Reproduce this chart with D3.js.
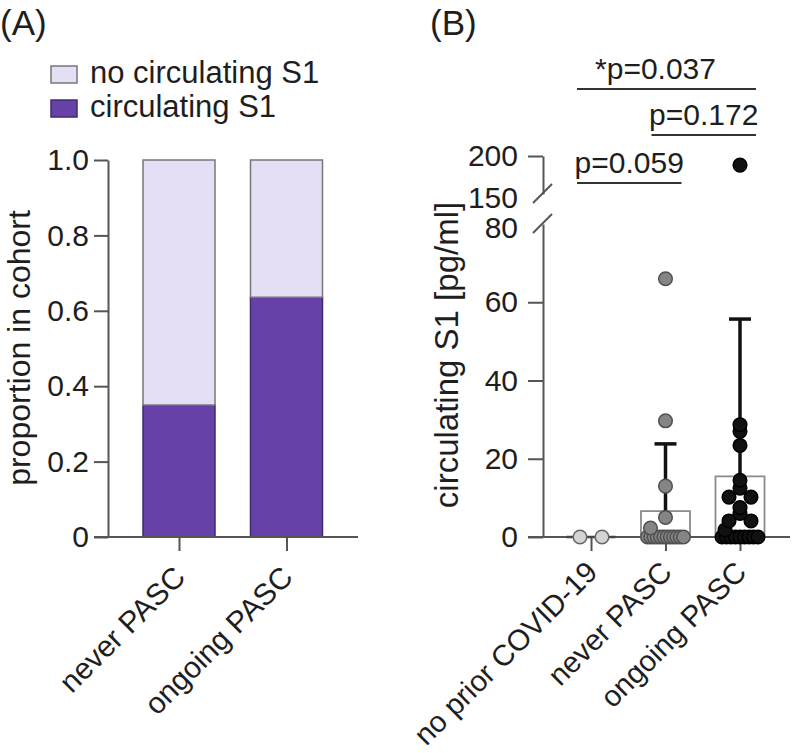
<!DOCTYPE html>
<html>
<head>
<meta charset="utf-8">
<script src="https://cdn.jsdelivr.net/npm/d3@7"></script>
<style>
  body { margin: 0; background: #fff; }
  text { font-family: "Liberation Sans", Arial, sans-serif; fill: #1e1e1e; }
</style>
</head>
<body>
<script>
// ---- data (A) ----
const groupsA = ['never PASC', 'ongoing PASC'];
const circS1 = [0.35, 0.636];
const noCircS1 = [0.65, 0.364];
const ticksA = [0, 0.2, 0.4, 0.6, 0.8, 1.0];
const legendLabels = ['no circulating S1', 'circulating S1'];

// ---- data (B) ----
const groupsB = ['no prior COVID-19', 'never PASC', 'ongoing PASC'];
const s1NoPrior = [0, 0];
const s1Never = [66, 29.7, 13, 5, 2.3, 0, 0, 0, 0, 0, 0, 0, 0, 0, 0, 0, 0];
const s1Ongoing = [188, 28.7, 27, 23.4, 14.5, 12.5, 10.2, 10.2, 7.5, 6, 4.1, 4.1, 1.8,
                   0, 0, 0, 0, 0, 0, 0, 0, 0];
const meanB = [0, 6.6, 15.5];
const sdB = [0, 17.2, 40.2];
const ticksLow = [0, 20, 40, 60, 80];
const ticksHigh = [150, 200];
const pairs = [
  { a: 'no prior COVID-19', b: 'ongoing PASC', label: '*p=0.037' },
  { a: 'never PASC', b: 'ongoing PASC', label: 'p=0.172' },
  { a: 'no prior COVID-19', b: 'never PASC', label: 'p=0.059' }
];

// couleurs
const darkPurple = '#6642a8';
const lightPurple = '#e5dff5';
const dotFill = ['#d4d4d4', '#858585', '#111111'];
const dotStroke = ['#666', '#505050', '#000'];
const axisCol = '#555';

const svg = d3.select('body').append('svg')
  .attr('width', 800)
  .attr('height', 753);

// ================= Panel A =================
const yA = d3.scaleLinear().domain([0, 1]).range([537, 160]);
const xA = d3.scalePoint().domain(groupsA).range([179, 286.5]);
const barWA = 72;

svg.append('text').attr('x', 0).attr('y', 35).style('font-size', '35px').text('(A)');

// légende
const legend = svg.append('g');
[lightPurple, darkPurple].forEach((c, i) => {
  legend.append('rect')
    .attr('x', 51).attr('y', 66 + i * 34)
    .attr('width', 26).attr('height', 17)
    .attr('fill', c).attr('stroke', i ? '#3e2c6e' : '#777').attr('stroke-width', 1.5);
  legend.append('text')
    .attr('x', 90).attr('y', 83 + i * 34)
    .style('font-size', '31px')
    .text(legendLabels[i]);
});

// barres empilées
const rowsA = groupsA.map((g, i) => ({ group: g, circ: circS1[i], noCirc: noCircS1[i] }));
const stackA = d3.stack().keys(['circ', 'noCirc'])(rowsA);
svg.append('g').selectAll('g')
  .data(stackA)
  .join('g')
  .attr('fill', d => d.key === 'circ' ? darkPurple : lightPurple)
  .attr('stroke', d => d.key === 'circ' ? '#3e2c6e' : '#777')
  .attr('stroke-width', 1.5)
  .selectAll('rect')
  .data(d => d)
  .join('rect')
  .attr('x', d => xA(d.data.group) - barWA / 2)
  .attr('width', barWA)
  .attr('y', d => yA(d[1]))
  .attr('height', d => yA(d[0]) - yA(d[1]));

// axe Y
const axA = svg.append('g')
  .attr('transform', 'translate(108,0)')
  .call(d3.axisLeft(yA).tickValues(ticksA).tickSize(14).tickSizeOuter(0).tickPadding(5)
    .tickFormat(d => d === 0 ? '0' : d.toFixed(1)));
axA.selectAll('text').style('font-size', '30px').attr('fill', '#1e1e1e');
axA.selectAll('line, path').attr('stroke', axisCol).attr('stroke-width', 2);

// axe X
svg.append('line').attr('x1', 94).attr('x2', 358).attr('y1', 537).attr('y2', 537)
  .attr('stroke', axisCol).attr('stroke-width', 2);
const axXA = svg.append('g')
  .attr('transform', 'translate(0,537)')
  .call(d3.axisBottom(xA).tickSize(14).tickFormat(''));
axXA.select('.domain').remove();
axXA.selectAll('line').attr('stroke', axisCol).attr('stroke-width', 2);
svg.append('g').selectAll('text')
  .data(groupsA)
  .join('text')
  .attr('transform', d => `translate(${xA(d) + 8},579) rotate(-45)`)
  .attr('text-anchor', 'end')
  .style('font-size', '30px')
  .text(d => d);

svg.append('text')
  .attr('transform', 'translate(30,348) rotate(-90)')
  .attr('text-anchor', 'middle')
  .style('font-size', '32px')
  .text('proportion in cohort');

// ================= Panel B =================
const yLow = d3.scaleLinear().domain([0, 80]).range([537, 224]);
const yHigh = d3.scaleLinear().domain([150, 200]).range([194, 156]);
const yB = v => v > 80 ? yHigh(v) : yLow(v);
const xB = d3.scalePoint().domain(groupsB).range([591, 740]);
const barWB = 49;
const axX = 543;

svg.append('text').attr('x', 430).attr('y', 35).style('font-size', '35px').text('(B)');

// axe Y, segment bas
const axLow = svg.append('g')
  .attr('transform', `translate(${axX},0)`)
  .call(d3.axisLeft(yLow).tickValues(ticksLow).tickSize(15).tickSizeOuter(0).tickPadding(10));
axLow.selectAll('.tick').filter(d => d === 80).select('line').remove();
// segment haut
const axHigh = svg.append('g')
  .attr('transform', `translate(${axX},0)`)
  .call(d3.axisLeft(yHigh).tickValues(ticksHigh).tickSize(15).tickSizeOuter(0).tickPadding(10));
axHigh.selectAll('.tick').filter(d => d === 150).select('line').remove();
[axLow, axHigh].forEach(ax => {
  ax.selectAll('text').style('font-size', '30px').attr('fill', '#1e1e1e');
  ax.selectAll('line, path').attr('stroke', axisCol).attr('stroke-width', 2);
});
axHigh.selectAll('.tick text').filter(d => d === 150).attr('dy', '0.45em');
axLow.selectAll('.tick text').filter(d => d === 80).attr('dy', '0.45em');

// marques de rupture
[yHigh(150), yLow(80)].forEach(y => {
  svg.append('line')
    .attr('x1', axX - 10).attr('y1', y + 9)
    .attr('x2', axX + 9).attr('y2', y - 10)
    .attr('stroke', axisCol).attr('stroke-width', 2);
});

// axe X
svg.append('line').attr('x1', 528).attr('x2', 790).attr('y1', 537).attr('y2', 537)
  .attr('stroke', axisCol).attr('stroke-width', 2);
const axXB = svg.append('g')
  .attr('transform', 'translate(0,537)')
  .call(d3.axisBottom(xB).tickSize(14).tickFormat(''));
axXB.select('.domain').remove();
axXB.selectAll('line').attr('stroke', axisCol).attr('stroke-width', 2);
svg.append('g').selectAll('text')
  .data(groupsB)
  .join('text')
  .attr('transform', d => `translate(${xB(d) + 8},574) rotate(-45)`)
  .attr('text-anchor', 'end')
  .style('font-size', '29.5px')
  .text(d => d);

svg.append('text')
  .attr('transform', 'translate(458,355) rotate(-90)')
  .attr('text-anchor', 'middle')
  .style('font-size', '33px')
  .text('circulating S1 [pg/ml]');

// barres moyenne (contour)
svg.append('g').selectAll('path')
  .data(groupsB)
  .join('path')
  .attr('d', (g, i) => {
    const x0 = xB(g) - barWB / 2, x1 = xB(g) + barWB / 2;
    const top = yB(meanB[i]), base = yB(0);
    return `M${x0},${base}L${x0},${top}L${x1},${top}L${x1},${base}Z`;
  })
  .attr('fill', 'none')
  .attr('stroke', (g, i) => i === 0 ? '#444' : '#8a8a8a')
  .attr('stroke-width', (g, i) => i === 0 ? 2.5 : 1.8);

// barres d'erreur (SD)
const err = svg.append('g').attr('stroke', '#111').attr('stroke-width', 3.5);
groupsB.forEach((g, i) => {
  if (sdB[i] <= 0) return;
  const top = yB(meanB[i] + sdB[i]);
  err.append('line').attr('x1', xB(g)).attr('x2', xB(g))
    .attr('y1', yB(meanB[i])).attr('y2', top);
  err.append('line').attr('x1', xB(g) - 11).attr('x2', xB(g) + 11)
    .attr('y1', top).attr('y2', top);
});

// placement des points (lignes de valeurs égales étalées)
const r = 6.8;
function layout(vals, cx) {
  const sorted = vals.slice().sort((a, b) => a - b);
  const rows = [];
  sorted.forEach(v => {
    const last = rows[rows.length - 1];
    if (last && last.v === v) last.n++;
    else rows.push({ v, n: 1 });
  });
  const out = [];
  rows.forEach((row, k) => {
    const y = yB(row.v);
    if (row.n > 1) {
      const sp = Math.min(22, 36 / (row.n - 1));
      for (let i = 0; i < row.n; i++) out.push({ v: row.v, x: cx + (i - (row.n - 1) / 2) * sp, y });
    } else {
      const prev = rows[k - 1];
      let x = cx;
      if (prev && prev.n >= 3 && yB(prev.v) - y < r * 1.5) x = cx - 15;
      out.push({ v: row.v, x, y });
    }
  });
  return out;
}

[s1NoPrior, s1Never, s1Ongoing].forEach((vals, i) => {
  svg.append('g').selectAll('circle')
    .data(layout(vals, xB(groupsB[i])))
    .join('circle')
    .attr('cx', d => d.x)
    .attr('cy', d => d.y)
    .attr('r', r)
    .attr('fill', dotFill[i])
    .attr('stroke', dotStroke[i])
    .attr('stroke-width', 1.5);
});

// comparaisons
const bracketY = [89, 135, 183];
const sig = svg.append('g');
pairs.forEach((p, i) => {
  const x1 = xB(p.a) - 14, x2 = xB(p.b) + 16;
  sig.append('line').attr('x1', x1).attr('x2', x2)
    .attr('y1', bracketY[i]).attr('y2', bracketY[i])
    .attr('stroke', '#333').attr('stroke-width', 2);
  const mid = (x1 + x2) / 2 - (p.label.startsWith('*') ? 11 : 0);
  sig.append('text')
    .attr('x', mid).attr('y', bracketY[i] - 10)
    .attr('text-anchor', 'middle')
    .style('font-size', '30px')
    .text(p.label);
});
</script>
</body>
</html>
